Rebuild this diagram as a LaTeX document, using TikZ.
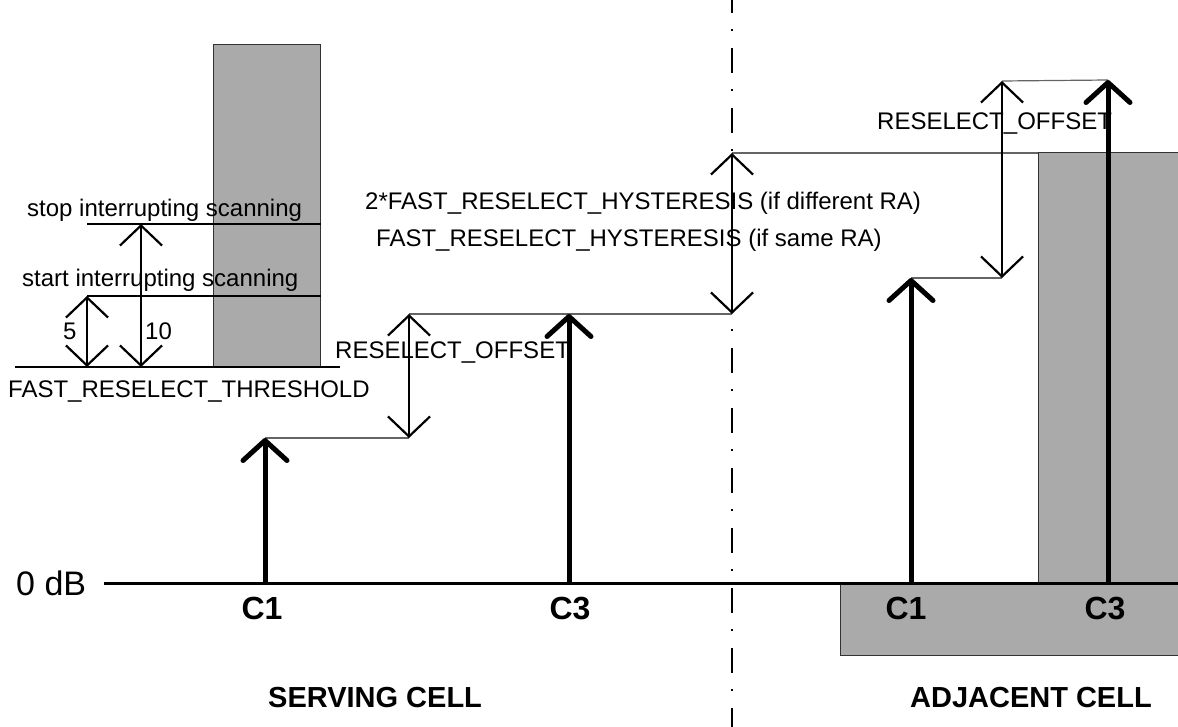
\documentclass[tikz,border=0pt]{standalone}
\usepackage{fontspec}
\setmainfont{Liberation Sans}
\usetikzlibrary{arrows.meta}
\definecolor{fillgrey}{RGB}{170,170,170}
\definecolor{edgegrey}{RGB}{50,50,50}
\definecolor{stepgrey}{RGB}{100,100,100}
\begin{document}
\begin{tikzpicture}[x=1pt,y=-1pt,
  txt/.style={font=\fontsize{24}{28}\selectfont, inner sep=0pt, anchor=base west},
  big/.style={font=\fontsize{34}{38}\selectfont, inner sep=0pt, anchor=base west},
  clbl/.style={font=\fontsize{32}{36}\selectfont\bfseries, inner sep=0pt, anchor=base},
  cell/.style={font=\fontsize{29}{33}\selectfont\bfseries, inner sep=0pt},
  greybox/.style={fill=fillgrey, draw=edgegrey, line width=1pt},
  level/.style={line width=2.2pt},
  stepline/.style={draw=stepgrey, line width=1.2pt},
  dim/.style={line width=2.2pt, {Straight Barb[length=20pt,width=42pt]}-{Straight Barb[length=20pt,width=42pt]}},
  sig/.style={line width=5pt, -{Straight Barb[length=20pt,width=44pt,round]}},
  sep/.style={line width=1.5pt, dash pattern=on 25pt off 16pt on 2pt off 17pt}
]
\useasboundingbox (0,0) rectangle (1178,727);
\clip (0,0) rectangle (1178,727);

% grey areas
\draw[greybox] (213,45) rectangle (320,367);
\draw[greybox] (1038,153) rectangle (1190,583);
\draw[greybox] (840,583) rectangle (1190,655);

% coordinates
\coordinate (thrL) at (15,367);   \coordinate (thrR) at (340,367);
\coordinate (staL) at (87,296);   \coordinate (staR) at (321,296);
\coordinate (stoL) at (87,224);   \coordinate (stoR) at (321,224);
\coordinate (d5b) at (87,367);    \coordinate (d10t) at (141,224); \coordinate (d10b) at (141,367);

\coordinate (zeroL) at (104,583); \coordinate (zeroR) at (1190,583);
\coordinate (s1base) at (265,583); \coordinate (s1tip) at (265,438);
\coordinate (ro1bot) at (409,438); \coordinate (ro1top) at (409,314);
\coordinate (s3base) at (569,583); \coordinate (s3tip) at (569,314);
\coordinate (hybot) at (732,314);  \coordinate (hytop) at (732,153);
\coordinate (tallNW) at (1038,153);
\coordinate (a1base) at (911,583); \coordinate (a1tip) at (911,278);
\coordinate (ro2bot) at (1002,278); \coordinate (ro2top) at (1002,81);
\coordinate (a3base) at (1108,583); \coordinate (a3tip) at (1108,80);
\coordinate (sepT) at (732,-12);   \coordinate (sepB) at (732,740);

% separator
\draw[sep] (sepT) -- (sepB);

% threshold levels
\draw[level] (thrL) -- (thrR);
\draw[level] (staL) -- (staR);
\draw[level] (stoL) -- (stoR);
\draw[dim] (staL) -- (d5b);
\draw[dim] (d10t) -- (d10b);

% step lines
\draw[stepline] (s1tip) -- (ro1bot);
\draw[stepline] (ro1top) -- (hybot);
\draw[stepline] (hytop) -- (tallNW);
\draw[stepline] (a1tip) -- (ro2bot);
\draw[stepline] (ro2top) -- (a3tip);

% zero line
\draw[line width=3pt] (zeroL) -- (zeroR);

% dimension arrows
\draw[dim] (ro1top) -- (ro1bot);
\draw[dim] (hytop) -- (hybot);
\draw[dim] (ro2top) -- (ro2bot);

% signal arrows
\draw[sig] (s1base) -- (s1tip);
\draw[sig] (s3base) -- (s3tip);
\draw[sig] (a1base) -- (a1tip);
\draw[sig] (a3base) -- (a3tip);

% texts
\node[txt] (tstop) at (27,217) {stop interrupting scanning};
\node[txt] (tstart) at (22,287) {start interrupting scanning};
\node[txt] (t5) at (63,340) {5};
\node[txt] (t10) at (145,340) {10};
\node[txt] (tthr) at (8,397) {FAST\_RESELECT\_THRESHOLD};
\node[txt] (tro1) at (335,358) {RESELECT\_OFFSET};
\node[txt] (thy2) at (365,210) {2*FAST\_RESELECT\_HYSTERESIS (if different RA)};
\node[txt] (thy1) at (376,247) {FAST\_RESELECT\_HYSTERESIS (if same RA)};
\node[txt] (tro2) at (877,130) {RESELECT\_OFFSET};
\node[big] (t0db) at (16,595) {0 dB};
\node[clbl] (lc1s) at (262,619) {C1};
\node[clbl] (lc3s) at (570,619) {C3};
\node[clbl] (lc1a) at (906,619) {C1};
\node[clbl] (lc3a) at (1105,619) {C3};
\node[cell, anchor=base west] (tserv) at (268,707) {SERVING CELL};
\node[cell, anchor=base east] (tadj) at (1152,707) {ADJACENT CELL};
\end{tikzpicture}
\end{document}
